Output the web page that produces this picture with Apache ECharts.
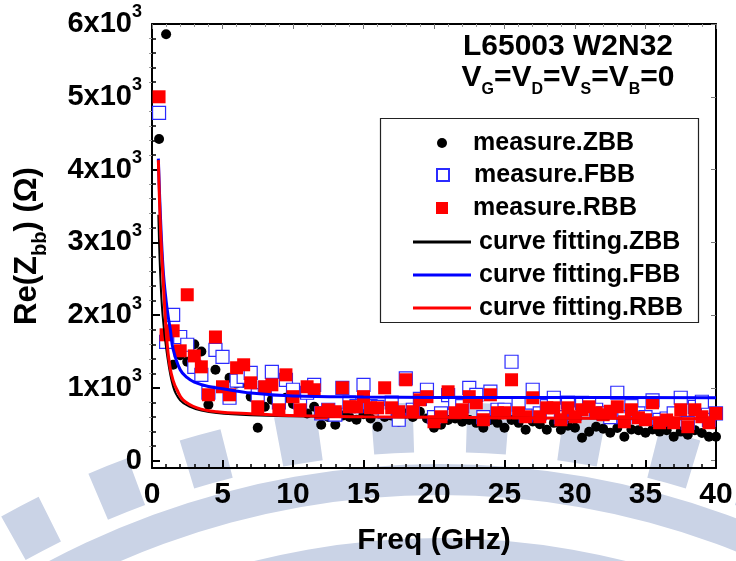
<!DOCTYPE html>
<html>
<head>
<meta charset="utf-8">
<script src="https://cdn.jsdelivr.net/npm/echarts@6/dist/echarts.min.js"></script>
<style>
  html, body { margin: 0; padding: 0; background: #ffffff; }
  #chart { width: 736px; height: 561px; }
</style>
</head>
<body>
<div id="chart"></div>
<script>
// Measurement frequencies (GHz)
const freqGHz = [
  0.5, 1.0, 1.5, 2.0, 2.5, 3.0, 3.5, 4.0, 4.5, 5.0,
  5.5, 6.0, 6.5, 7.0, 7.5, 8.0, 8.5, 9.0, 9.5, 10.0,
  10.5, 11.0, 11.5, 12.0, 12.5, 13.0, 13.5, 14.0, 14.5, 15.0,
  15.5, 16.0, 16.5, 17.0, 17.5, 18.0, 18.5, 19.0, 19.5, 20.0,
  20.5, 21.0, 21.5, 22.0, 22.5, 23.0, 23.5, 24.0, 24.5, 25.0,
  25.5, 26.0, 26.5, 27.0, 27.5, 28.0, 28.5, 29.0, 29.5, 30.0,
  30.5, 31.0, 31.5, 32.0, 32.5, 33.0, 33.5, 34.0, 34.5, 35.0,
  35.5, 36.0, 36.5, 37.0, 37.5, 38.0, 38.5, 39.0, 39.5, 40.0
];

// Re(Zbb) measured, ohm
const zbbMeasured = [
  4420, 5860, 1318, 1450, 1360, 1600, 1500, 770, 1250, 1000,
  1140, 1060, 1070, 880, 453, 741, 837, 770, 865, 780,
  727, 650, 741, 494, 600, 494, 620, 600, 563, 640,
  580, 467, 600, 620, 535, 650, 600, 673, 580, 453,
  494, 560, 580, 535, 560, 520, 453, 560, 520, 453,
  560, 520, 425, 540, 500, 425, 520, 425, 480, 453,
  316, 398, 467, 440, 384, 450, 330, 430, 420, 384,
  430, 400, 420, 330, 400, 357, 420, 380, 330, 330
];
const fbbMeasured = [
  4780, 1634, 2005, 1700, 1593, 1290, 1180, 934, 1524, 1428,
  865, 1100, 1153, 1208, 900, 1000, 1222, 800, 1112, 975,
  800, 934, 1043, 650, 700, 632, 1000, 800, 750, 1043,
  750, 741, 673, 800, 563, 1130, 700, 850, 975, 600,
  650, 900, 796, 750, 1002, 906, 600, 950, 700, 700,
  1360, 769, 620, 975, 650, 750, 865, 600, 800, 650,
  796, 780, 700, 650, 600, 934, 600, 750, 650, 600,
  830, 560, 580, 650, 865, 520, 740, 810, 560, 650
];
const rbbMeasured = [
  5000, 1730, 1785, 1510, 2280, 1440, 1290, 906, 1700, 1016,
  906, 1277, 1318, 1070, 741, 1016, 1043, 700, 1180, 880,
  700, 1016, 975, 659, 700, 673, 1002, 741, 741, 880,
  727, 727, 1002, 727, 673, 1112, 673, 837, 880, 535,
  604, 947, 659, 700, 880, 796, 563, 906, 659, 659,
  1112, 659, 604, 865, 604, 727, 727, 563, 727, 604,
  700, 741, 659, 632, 680, 741, 535, 700, 590, 563,
  796, 522, 560, 522, 700, 467, 700, 604, 522, 650
];

// Fitted curves: sampled frequency (GHz) and value (ohm)
const fitFreqZBB = [0.45, 0.57, 0.75, 1.05, 1.5, 2.0, 2.7, 3.5, 4.6, 7.0, 10.0, 15.0, 20.0, 30.0, 40.0];
const fitZBB     = [3380, 2620, 2000, 1480, 1016, 830, 741, 690, 655, 625, 610, 600, 594, 585, 572];
const fitFreqFBB = [0.45, 0.6, 0.8, 1.0, 1.15, 1.3, 1.5, 2.0, 2.5, 3.0, 4.0, 5.0, 7.0, 10.0, 15.0, 20.0, 30.0, 40.0];
const fitFBB     = [4150, 3350, 2600, 2200, 1980, 1800, 1530, 1250, 1140, 1080, 1020, 990, 930, 890, 875, 870, 868, 866];
const fitFreqRBB = [0.45, 0.6, 0.8, 1.05, 1.27, 1.5, 1.77, 2.2, 3.2, 4.6, 7.0, 10.5, 15.0, 20.0, 25.0, 30.0, 35.0, 40.0];
const fitRBB     = [4130, 3200, 2450, 1660, 1290, 1100, 975, 837, 727, 673, 645, 618, 604, 597, 590, 585, 580, 577];

// Axis ticks
const yMajorTicks = [0, 1000, 2000, 3000, 4000, 5000, 6000];
const yMinorTicks = [200, 400, 600, 800, 1200, 1400, 1600, 1800, 2200, 2400, 2600, 2800,
                     3200, 3400, 3600, 3800, 4200, 4400, 4600, 4800, 5200, 5400, 5600, 5800];

const FONT = 'Liberation Sans, Arial, sans-serif';
const pair = (xs, ys) => xs.map((x, i) => [x, ys[i]]);

// Faint emblem behind the plot: a ring band plus radial blocks
const WM_CX = 440, WM_CY = 1300, WM_COLOR = '#cad3e6';
const wmBlockAngles = [-34.1, -27.9, -21.7, -15.5, -9.3, -3.1, 3.1, 9.3, 15.5, 21.7, 27.9];
const watermark = [];
wmBlockAngles.forEach(a => {
  const c = -Math.PI / 2 + a * Math.PI / 180;
  const half = 1.35 * Math.PI / 180;
  watermark.push({
    type: 'sector', silent: true, z: -10,
    shape: { cx: WM_CX, cy: WM_CY, r0: 848, r: 898, startAngle: c - half, endAngle: c + half },
    style: { fill: WM_COLOR }
  });
});
watermark.push({
  type: 'sector', silent: true, z: -10,
  shape: { cx: WM_CX, cy: WM_CY, r0: 805, r: 836, startAngle: -Math.PI / 2 - 0.7, endAngle: -Math.PI / 2 + 0.7 },
  style: { fill: WM_COLOR }
});
watermark.push({
  type: 'sector', silent: true, z: -10,
  shape: { cx: WM_CX, cy: WM_CY, r0: 738, r: 762, startAngle: -Math.PI / 2 - 0.7, endAngle: -Math.PI / 2 + 0.7 },
  style: { fill: WM_COLOR }
});

const chart = echarts.init(document.getElementById('chart'), null, { renderer: 'canvas' });

const legendText = { fontFamily: FONT, fontSize: 25, fontWeight: 'bold', color: '#000', lineHeight: 33 };
const ICON_CIRCLE = 'path://M5,0A5,5,0,1,1,4.999,0Z';
const ICON_SQUARE = 'path://M0,0L10,0L10,10L0,10Z';

chart.setOption({
  animation: false,
  backgroundColor: 'transparent',
  title: [
    {
      text: 'L65003 W2N32',
      left: 568, top: 32, textAlign: 'center', padding: 0,
      textStyle: { fontFamily: FONT, fontSize: 30, fontWeight: 'bold', color: '#000', lineHeight: 30 }
    },
    {
      text: '{v|V}{s|G}{v|=V}{s|D}{v|=V}{s|S}{v|=V}{s|B}{v|=0}',
      left: 568, top: 58, textAlign: 'center', padding: 0,
      textStyle: {
        rich: {
          v: { fontFamily: FONT, fontSize: 30, fontWeight: 'bold', color: '#000', lineHeight: 40 },
          s: { fontFamily: FONT, fontSize: 16, fontWeight: 'bold', color: '#000', lineHeight: 16, verticalAlign: 'bottom' }
        }
      }
    }
  ],
  grid: { left: 152, right: 20, top: 24, bottom: 93, containLabel: false },
  legend: [
    { data: ['measure.ZBB'], icon: ICON_CIRCLE, left: 437, top: 126.5, padding: 0, itemWidth: 52, itemHeight: 10,
      selectedMode: false, textStyle: legendText },
    { data: ['measure.FBB'], icon: ICON_SQUARE, left: 436, top: 158.5, padding: 0, itemWidth: 52, itemHeight: 12,
      selectedMode: false, textStyle: legendText },
    { data: ['measure.RBB'], icon: ICON_SQUARE, left: 436, top: 191.5, padding: 0, itemWidth: 52, itemHeight: 12,
      selectedMode: false, textStyle: legendText },
    { data: ['curve fitting.ZBB', 'curve fitting.FBB', 'curve fitting.RBB'], icon: 'rect', orient: 'vertical',
      left: 413, top: 225.5, padding: 0, itemGap: 0, itemWidth: 58, itemHeight: 3,
      selectedMode: false, textStyle: Object.assign({}, legendText, { padding: [0, 0, 0, 3] }) }
  ],
  xAxis: [
    {
      type: 'value', min: 0, max: 40, interval: 5, position: 'bottom',
      name: 'Freq (GHz)', nameLocation: 'middle', nameGap: 58,
      nameTextStyle: { fontFamily: FONT, fontSize: 30, fontWeight: 'bold', color: '#000' },
      axisLine: { show: true, onZero: false, lineStyle: { color: '#000', width: 2 } },
      axisTick: { show: true, inside: true, length: 8, lineStyle: { color: '#000', width: 2 } },
      minorTick: { show: true, splitNumber: 5, length: 4, lineStyle: { color: '#000', width: 1.5 } },
      axisLabel: { fontFamily: FONT, fontSize: 30, fontWeight: 'bold', color: '#000', margin: 12 },
      splitLine: { show: false }
    },
    {
      type: 'value', min: 0, max: 40, interval: 5, position: 'top',
      axisLine: { show: true, onZero: false, lineStyle: { color: '#000', width: 2 } },
      axisTick: { show: true, inside: true, length: 5, lineStyle: { color: '#777', width: 1 } },
      minorTick: { show: true, splitNumber: 5, length: 3, lineStyle: { color: '#999', width: 1 } },
      axisLabel: { show: false },
      splitLine: { show: false }
    }
  ],
  yAxis: [
    {
      type: 'value', min: -100, max: 6000, position: 'left',
      name: '{m|Re(Z}{s|bb}{m|) (Ω)}', nameLocation: 'middle', nameGap: 102, nameRotate: 90,
      nameTextStyle: {
        rich: {
          m: { fontFamily: FONT, fontSize: 31, fontWeight: 'bold', color: '#000', lineHeight: 46 },
          s: { fontFamily: FONT, fontSize: 20, fontWeight: 'bold', color: '#000', lineHeight: 20, verticalAlign: 'bottom' }
        }
      },
      axisLine: { show: true, onZero: false, lineStyle: { color: '#000', width: 2 } },
      axisTick: { show: true, inside: true, length: 8, customValues: yMajorTicks, lineStyle: { color: '#000', width: 2 } },
      axisLabel: {
        customValues: yMajorTicks, margin: 10,
        formatter: v => v === 0 ? '{m|0}' : '{m|' + (v / 1000) + 'x10}{s|3}',
        rich: {
          m: { fontFamily: FONT, fontSize: 29, fontWeight: 'bold', color: '#000', lineHeight: 41 },
          s: { fontFamily: FONT, fontSize: 18, fontWeight: 'bold', color: '#000', lineHeight: 18, verticalAlign: 'top' }
        }
      },
      splitLine: { show: false }
    },
    {
      type: 'value', min: -100, max: 6000, position: 'left',
      axisLine: { show: false },
      axisTick: { show: true, inside: true, length: 4, customValues: yMinorTicks, lineStyle: { color: '#000', width: 1.5 } },
      axisLabel: { show: false },
      splitLine: { show: false }
    },
    {
      type: 'value', min: -100, max: 6000, position: 'right',
      axisLine: { show: true, onZero: false, lineStyle: { color: '#000', width: 2 } },
      axisTick: { show: true, inside: true, length: 5, customValues: yMajorTicks, lineStyle: { color: '#777', width: 1 } },
      axisLabel: { show: false },
      splitLine: { show: false }
    },
    {
      type: 'value', min: -100, max: 6000, position: 'right',
      axisLine: { show: false },
      axisTick: { show: true, inside: true, length: 3, customValues: yMinorTicks, lineStyle: { color: '#999', width: 1 } },
      axisLabel: { show: false },
      splitLine: { show: false }
    }
  ],
  graphic: watermark.concat([
    {
      type: 'rect', silent: true, z: 5,
      shape: { x: 380.5, y: 118.5, width: 318, height: 204 },
      style: { fill: 'none', stroke: '#222', lineWidth: 1.2 }
    }
  ]),
  series: [
    {
      name: 'measure.ZBB', type: 'scatter', symbol: 'circle', symbolSize: 10, z: 2,
      itemStyle: { color: '#000', opacity: 1 },
      data: pair(freqGHz, zbbMeasured)
    },
    {
      name: 'measure.FBB', type: 'scatter', symbol: 'rect', symbolSize: 13, z: 3,
      itemStyle: { color: '#ffffff', borderColor: '#2b2bff', borderWidth: 1.2, opacity: 1 },
      data: pair(freqGHz, fbbMeasured)
    },
    {
      name: 'measure.RBB', type: 'scatter', symbol: 'rect', symbolSize: 13, z: 4,
      itemStyle: { color: '#ff0000', opacity: 1 },
      data: pair(freqGHz, rbbMeasured)
    },
    {
      name: 'curve fitting.ZBB', type: 'line', symbol: 'none', smooth: 0.4, z: 6,
      lineStyle: { color: '#000', width: 2 }, itemStyle: { color: '#000' },
      data: pair(fitFreqZBB, fitZBB)
    },
    {
      name: 'curve fitting.FBB', type: 'line', symbol: 'none', smooth: 0.4, z: 6,
      lineStyle: { color: '#0000ff', width: 3 }, itemStyle: { color: '#0000ff' },
      data: pair(fitFreqFBB, fitFBB)
    },
    {
      name: 'curve fitting.RBB', type: 'line', symbol: 'none', smooth: 0.4, z: 7,
      lineStyle: { color: '#ff0000', width: 3 }, itemStyle: { color: '#ff0000' },
      data: pair(fitFreqRBB, fitRBB)
    }
  ]
});
</script>
</body>
</html>
